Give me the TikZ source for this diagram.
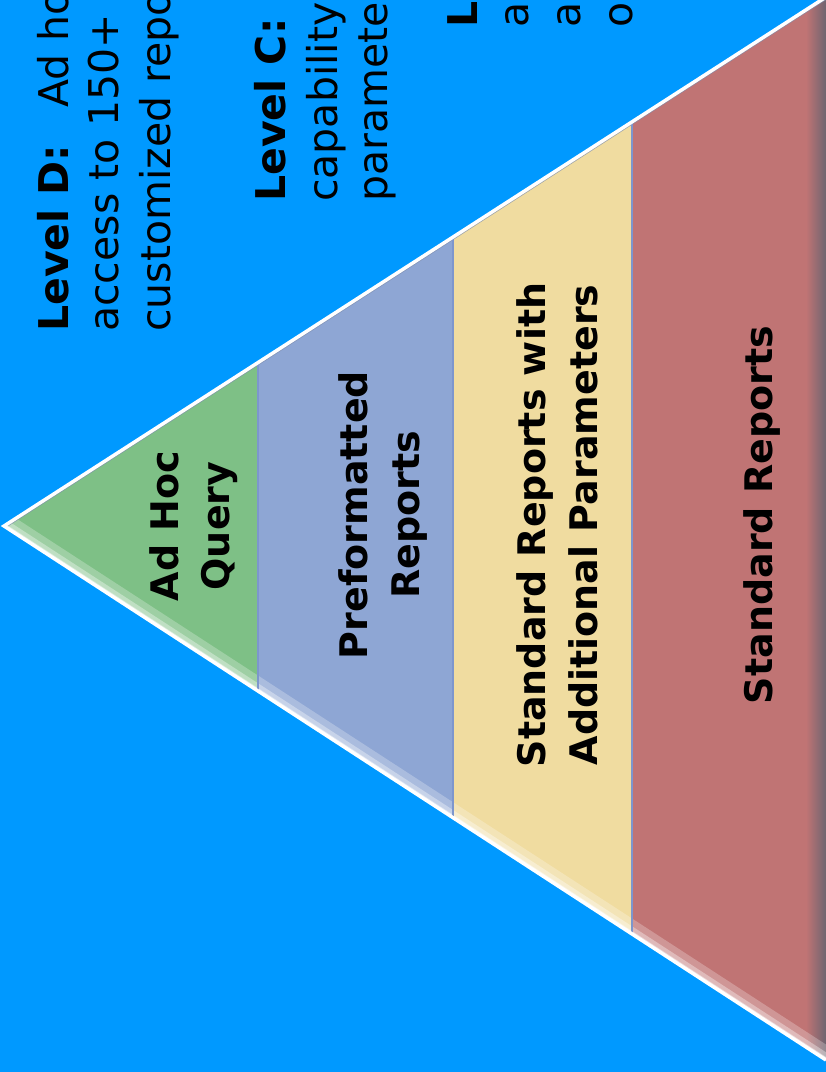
\documentclass[tikz,border=0pt]{standalone}
\usepackage{fontspec}
\setmainfont{DejaVu Sans}

\definecolor{sky}{RGB}{0,153,255}
\definecolor{adhocgreen}{RGB}{126,192,134}
\definecolor{prefblue}{RGB}{142,166,212}
\definecolor{paramyellow}{RGB}{240,220,160}
\definecolor{stdred}{RGB}{192,116,116}
\definecolor{bandline}{RGB}{125,150,205}
\definecolor{sideshade}{RGB}{110,100,112}

\begin{document}
\begin{tikzpicture}
        [
            x=1pt, y=-1pt,
            note/.style={rotate=90, anchor=base west, inner sep=0pt, font=\fontsize{41}{50}\selectfont},
            band/.style={rotate=90, anchor=base, inner sep=0pt, font=\fontsize{38}{52}\selectfont\bfseries},
        ]
            \useasboundingbox (0,0) rectangle (826,1072);
            \fill[sky] (0,0) rectangle (826,1072);

            \begin{scope}
                \clip (0,0) rectangle (826,1072);

                \coordinate (apex) at (4,526);
                \coordinate (topend) at (826,-3);
                \coordinate (botend) at (826,1060);

                % bands of the pyramid
                \fill[adhocgreen] (apex) -- (258,363) -- (258,691) -- cycle;
                \fill[prefblue] (258,363) -- (453,237) -- (453,818) -- (258,691) -- cycle;
                \fill[paramyellow] (453,237) -- (632,122) -- (632,934) -- (453,818) -- cycle;
                \fill[stdred] (632,122) -- (topend) -- (botend) -- (632,934) -- cycle;

                \begin{scope}
                    \clip (apex) -- (topend) -- (botend) -- cycle;
                    \shade[left color=stdred, right color=sideshade] (806,-5) rectangle (826,1075);
                    \draw[white, opacity=0.25, line width=26] (apex) -- (botend);
                    \draw[white, opacity=0.35, line width=13] (apex) -- (botend);
                    \draw[white, opacity=0.5, line width=5] (apex) -- (botend);
                    \draw[bandline!60!gray, opacity=0.7, line width=5] (apex) -- (topend);
                \end{scope}

                \draw[bandline, line width=1.5] (258,363) -- (258,691);
                \draw[bandline, line width=1.5] (453,237) -- (453,818);
                \draw[bandline, line width=1.5] (632,122) -- (632,934);

                \draw[white, line width=3.5] (topend) -- (apex) -- (botend);

                % labels inside the pyramid
                \node[band] (adhoc) at (178,526) {Ad Hoc};
                \node[band] (query) at (229,526) {Query};
                \node[band] (preformatted) at (367,515) {Preformatted};
                \node[band] (reports) at (419,515) {Reports};
                \node[band] (stdwith) at (545,525) {Standard Reports with};
                \node[band] (addparams) at (597,525) {Additional Parameters};
                \node[band] (stdreports) at (772,515) {Standard Reports};

                % level notes
                \node[note] (dline1) at (68,332) {\textbf{Level D:}\hspace{0.9em}Ad hoc};
                \node[note] (dline2) at (118,332) {access to 150+};
                \node[note] (dline3) at (170,332) {customized reports};

                \node[note] (cline1) at (285,202) {\textbf{Level C:}};
                \node[note] (cline2) at (337,202) {capability};
                \node[note] (cline3) at (387,202) {parameters};

                \node[note] (bline1) at (477,28) {\textbf{Le}};
                \node[note] (bline2) at (528,28) {ab};
                \node[note] (bline3) at (580,28) {ac};
                \node[note] (bline4) at (632,28) {on};
            \end{scope}
        \end{tikzpicture}
\end{document}
